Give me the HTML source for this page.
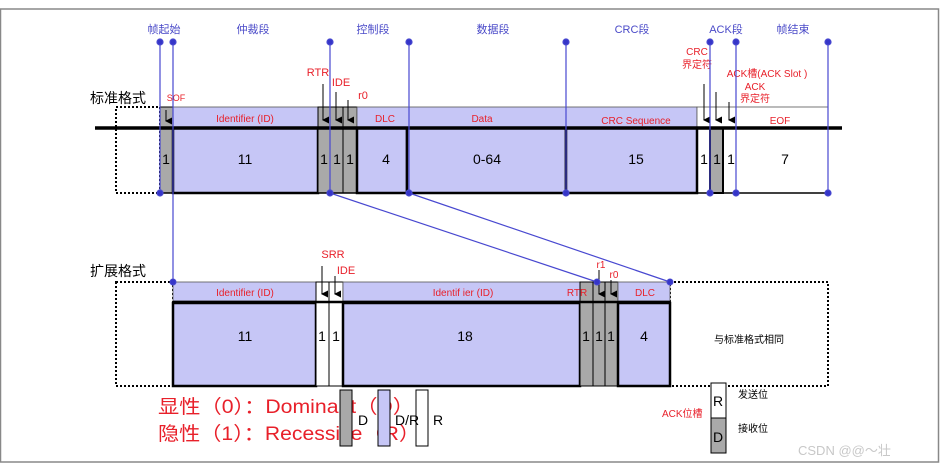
<!DOCTYPE html>
<html><head><meta charset="utf-8"><style>
html,body{margin:0;padding:0;background:#fff;}
svg{display:block;font-family:"Liberation Sans","Noto Sans CJK SC",sans-serif;}
</style></head><body>
<svg width="943" height="466" viewBox="0 0 943 466" xmlns="http://www.w3.org/2000/svg">
<defs><marker id="ar" markerWidth="7" markerHeight="7" refX="3.5" refY="6" orient="auto" markerUnits="userSpaceOnUse"><path d="M0,0 L7,0 L3.5,7 z" fill="#000"/></marker></defs>
<rect x="0.5" y="9" width="938" height="453" fill="none" stroke="#888" stroke-width="1.5"/>
<g fill="#4a4ac8" font-size="11" text-anchor="middle">
<text x="164" y="33">帧起始</text><text x="253" y="33">仲裁段</text><text x="373" y="33">控制段</text>
<text x="493" y="33">数据段</text><text x="632" y="33">CRC段</text><text x="726" y="33">ACK段</text><text x="793" y="33">帧结束</text>
</g>
<text x="90" y="103" font-size="14" fill="#000">标准格式</text>
<rect x="116" y="107" width="44" height="86" fill="none" stroke="#000" stroke-width="2" stroke-dasharray="2,2"/>
<rect x="160" y="107" width="13" height="86" fill="#a9a9a9" stroke="#000"/>
<rect x="173" y="107" width="145" height="20" fill="#c6c6f6" stroke="#555" stroke-width="0.8"/>
<rect x="173" y="128" width="145" height="65" fill="#c6c6f6" stroke="#000" stroke-width="2.5"/>
<rect x="318" y="107" width="39" height="86" fill="#a9a9a9" stroke="#000"/>
<line x1="330" y1="107" x2="330" y2="193" stroke="#000"/><line x1="343" y1="107" x2="343" y2="193" stroke="#000"/>
<rect x="357" y="107" width="340" height="20" fill="#c6c6f6" stroke="#555" stroke-width="0.8"/>
<rect x="357" y="128" width="50" height="65" fill="#c6c6f6" stroke="#000" stroke-width="2.5"/>
<rect x="407" y="128" width="159" height="65" fill="#c6c6f6" stroke="#000" stroke-width="2.5"/>
<rect x="566" y="128" width="131" height="65" fill="#c6c6f6" stroke="#000" stroke-width="2.5"/>
<rect x="697" y="107" width="131" height="20" fill="#fff" stroke="#555" stroke-width="0.8"/>
<rect x="710" y="128" width="13" height="65" fill="#a9a9a9" stroke="#000" stroke-width="2"/>
<line x1="95" y1="128" x2="842" y2="128" stroke="#000" stroke-width="3.5"/>
<line x1="160" y1="193" x2="828" y2="193" stroke="#000" stroke-width="1.5"/>
<g fill="#e8202a" font-size="10" text-anchor="middle">
<text x="245" y="122">Identifier (ID)</text><text x="385" y="122">DLC</text><text x="482" y="122">Data</text>
<text x="636" y="124">CRC Sequence</text><text x="780" y="124">EOF</text>
<text x="176" y="101" font-size="9">SOF</text>
<text x="318" y="76" font-size="11">RTR</text><text x="341" y="86" font-size="11">IDE</text><text x="363" y="99" font-size="11">r0</text>
<text x="697" y="55">CRC</text><text x="697" y="68">界定符</text>
<text x="767" y="77">ACK槽(ACK Slot )</text><text x="755" y="90">ACK</text><text x="755" y="102">界定符</text>
</g>
<g stroke="#000" stroke-width="1" marker-end="url(#ar)">
<line x1="166" y1="110" x2="166" y2="121"/>
<line x1="323" y1="84" x2="323" y2="120"/><line x1="336" y1="92" x2="336" y2="120"/><line x1="348" y1="100" x2="348" y2="120"/>
<line x1="704" y1="84" x2="704" y2="120"/><line x1="716" y1="92" x2="716" y2="120"/><line x1="729" y1="102" x2="729" y2="120"/>
</g>
<g font-size="14" fill="#000" text-anchor="middle">
<text x="166" y="164">1</text><text x="245" y="164">11</text><text x="324" y="164">1</text><text x="337" y="164">1</text><text x="350" y="164">1</text>
<text x="386" y="164">4</text><text x="487" y="164">0-64</text><text x="636" y="164">15</text>
<text x="704" y="164">1</text><text x="717" y="164">1</text><text x="731" y="164">1</text><text x="785" y="164">7</text>
</g>
<g stroke="#4848d0" stroke-width="1.2" fill="#3535c8">
<line x1="160" y1="42" x2="160" y2="193"/><line x1="173" y1="42" x2="173" y2="282"/>
<line x1="330" y1="42" x2="330" y2="193"/><line x1="409" y1="42" x2="409" y2="193"/>
<line x1="566" y1="42" x2="566" y2="193"/><line x1="710" y1="42" x2="710" y2="193"/>
<line x1="736" y1="42" x2="736" y2="193"/><line x1="828" y1="42" x2="828" y2="193"/>
<line x1="330" y1="193" x2="597" y2="282"/><line x1="409" y1="193" x2="670" y2="282"/>
<circle cx="160" cy="42" r="3"/><circle cx="173" cy="42" r="3"/><circle cx="330" cy="42" r="3"/><circle cx="409" cy="42" r="3"/>
<circle cx="566" cy="42" r="3"/><circle cx="710" cy="42" r="3"/><circle cx="736" cy="42" r="3"/><circle cx="828" cy="42" r="3"/>
<circle cx="160" cy="193" r="3"/><circle cx="330" cy="193" r="3"/><circle cx="409" cy="193" r="3"/><circle cx="566" cy="193" r="3"/>
<circle cx="710" cy="193" r="3"/><circle cx="736" cy="193" r="3"/><circle cx="828" cy="193" r="3"/>
</g>
<text x="90" y="276" font-size="14" fill="#000">扩展格式</text>
<rect x="116" y="282" width="57" height="104" fill="none" stroke="#000" stroke-width="2" stroke-dasharray="2,2"/>
<rect x="670" y="282" width="158" height="104" fill="none" stroke="#000" stroke-width="2" stroke-dasharray="2,2"/>
<rect x="173" y="282" width="143" height="19" fill="#c6c6f6" stroke="#555" stroke-width="0.8"/>
<rect x="173" y="303" width="143" height="83" fill="#c6c6f6" stroke="#000" stroke-width="2.5"/>
<rect x="316" y="282" width="13" height="104" fill="#fff" stroke="#000"/>
<rect x="329" y="282" width="14" height="104" fill="#fff" stroke="#000"/>
<rect x="343" y="282" width="237" height="19" fill="#c6c6f6" stroke="#555" stroke-width="0.8"/>
<rect x="343" y="303" width="237" height="83" fill="#c6c6f6" stroke="#000" stroke-width="2.5"/>
<rect x="580" y="282" width="38" height="104" fill="#a9a9a9" stroke="#000"/>
<line x1="593" y1="282" x2="593" y2="386" stroke="#000"/><line x1="605" y1="282" x2="605" y2="386" stroke="#000"/>
<rect x="618" y="282" width="52" height="19" fill="#c6c6f6" stroke="#555" stroke-width="0.8"/>
<rect x="618" y="303" width="52" height="83" fill="#c6c6f6" stroke="#000" stroke-width="2.5"/>
<line x1="173" y1="302" x2="670" y2="302" stroke="#000" stroke-width="2.5"/>
<g fill="#e8202a" font-size="10" text-anchor="middle">
<text x="245" y="296">Identifier (ID)</text><text x="463" y="296">Identif ier (ID)</text><text x="577" y="296">RTR</text><text x="645" y="296">DLC</text>
<text x="333" y="258" font-size="11">SRR</text><text x="346" y="274" font-size="11">IDE</text>
<text x="601" y="268">r1</text><text x="614" y="278">r0</text>
</g>
<g stroke="#000" stroke-width="1" marker-end="url(#ar)">
<line x1="322" y1="266" x2="322" y2="294"/><line x1="335" y1="276" x2="335" y2="294"/>
<line x1="599" y1="270" x2="599" y2="294"/><line x1="611" y1="280" x2="611" y2="294"/>
</g>
<g stroke="#4848d0" fill="#3535c8"><circle cx="173" cy="282" r="3"/><circle cx="597" cy="282" r="3"/><circle cx="670" cy="282" r="3"/></g>
<g font-size="14" fill="#000" text-anchor="middle">
<text x="245" y="341">11</text><text x="322" y="341">1</text><text x="336" y="341">1</text><text x="465" y="341">18</text>
<text x="586" y="341">1</text><text x="599" y="341">1</text><text x="611" y="341">1</text><text x="644" y="341">4</text>
</g>
<text x="749" y="343" font-size="10" fill="#000" text-anchor="middle">与标准格式相同</text>
<g fill="#e8202a" font-size="19">
<text x="158" y="413" textLength="256" lengthAdjust="spacingAndGlyphs">显性（0）：Dominant（D）</text>
<text x="158" y="440" textLength="262" lengthAdjust="spacingAndGlyphs">隐性（1）：Recessive（R）</text>
</g>
<rect x="340" y="390" width="12" height="56" fill="#a9a9a9" stroke="#000"/>
<rect x="378" y="390" width="12" height="56" fill="#c6c6f6" stroke="#000"/>
<rect x="416" y="390" width="12" height="56" fill="#fff" stroke="#000"/>
<g font-size="14" fill="#000"><text x="358" y="425">D</text><text x="395" y="425">D/R</text><text x="433" y="425">R</text></g>
<rect x="711" y="383" width="15" height="35" fill="#fff" stroke="#000"/>
<rect x="711" y="418" width="15" height="35" fill="#a9a9a9" stroke="#000"/>
<g font-size="14" fill="#000"><text x="713" y="406">R</text><text x="713" y="442">D</text></g>
<text x="662" y="417" font-size="10" fill="#e8202a">ACK位槽</text>
<g font-size="10" fill="#000"><text x="738" y="398">发送位</text><text x="738" y="432">接收位</text></g>
<text x="798" y="455" font-size="13" fill="#c8c8c8">CSDN @@～壮</text>
</svg>
</body></html>
